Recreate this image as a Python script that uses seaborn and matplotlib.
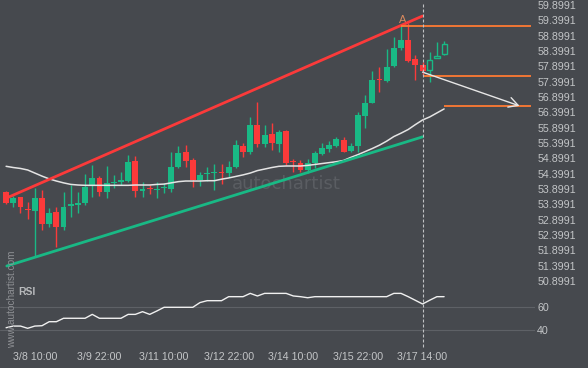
import numpy as np
import pandas as pd
import seaborn as sns
import matplotlib.pyplot as plt
from matplotlib.lines import Line2D
from matplotlib.transforms import blended_transform_factory

# 4h candles, index 0..61
opens = [53.81, 53.44, 53.63, 53.25, 53.18, 53.61, 52.76, 53.15, 52.66, 53.36,
         53.38, 53.44, 54.00, 54.26, 53.80, 54.09, 54.14, 54.16, 54.81, 53.85,
         53.91, 53.88, 53.93, 53.90, 54.62, 55.11, 54.85, 54.19, 54.39, 54.42,
         54.45, 54.41, 54.62, 55.30, 55.12, 55.99, 55.37, 55.69, 55.37, 55.79,
         54.80, 54.75, 54.52, 54.74, 55.04, 55.20, 55.31, 55.50, 55.14, 55.30,
         56.28, 56.71, 57.47, 57.43, 57.91, 58.51, 58.76, 58.13, 57.94, 57.78,
         58.16, 58.29]
highs = [53.84, 53.66, 53.65, 53.49, 53.93, 53.87, 53.28, 53.31, 53.80, 54.03,
         53.80, 54.39, 54.68, 54.32, 54.65, 54.36, 54.45, 55.01, 54.98, 54.13,
         54.03, 54.13, 54.10, 55.11, 55.30, 55.33, 54.91, 54.45, 54.62, 54.72,
         54.72, 54.81, 55.50, 55.41, 56.26, 56.75, 55.99, 56.06, 55.82, 55.82,
         54.88, 54.85, 54.88, 55.15, 55.40, 55.46, 55.60, 55.60, 55.40, 56.42,
         56.96, 57.76, 57.88, 58.45, 58.85, 59.25, 59.30, 58.27, 58.05, 58.38,
         58.70, 58.73]
lows = [53.42, 53.31, 53.12, 52.92, 51.68, 52.56, 52.66, 52.01, 52.56, 52.99,
        53.12, 53.38, 53.64, 53.67, 53.61, 53.93, 54.03, 54.13, 53.64, 53.64,
        53.74, 53.61, 53.77, 53.80, 54.58, 54.62, 53.96, 54.00, 54.16, 53.87,
        54.06, 54.29, 54.58, 54.94, 55.04, 55.27, 55.27, 55.17, 55.11, 54.68,
        54.45, 54.45, 54.42, 54.58, 55.01, 55.11, 55.27, 55.11, 55.11, 55.12,
        55.89, 56.70, 57.06, 57.40, 57.88, 58.43, 58.05, 57.45, 57.62, 57.40,
        58.16, 58.27]
closes = [53.44, 53.61, 53.30, 53.22, 53.61, 52.76, 53.12, 52.66, 53.31, 53.39,
          53.43, 53.96, 54.26, 53.80, 54.10, 54.10, 54.18, 54.78, 53.83, 53.88,
          53.89, 53.91, 53.95, 54.62, 55.07, 54.81, 54.19, 54.36, 54.42, 54.45,
          54.42, 54.62, 55.33, 55.11, 55.99, 55.37, 55.66, 55.41, 55.76, 54.75,
          54.77, 54.52, 54.74, 55.08, 55.24, 55.33, 55.52, 55.12, 55.30, 56.31,
          56.69, 57.45, 57.44, 57.87, 58.49, 58.76, 58.08, 57.94, 57.75, 58.11,
          58.25, 58.62]
ma_values = [54.64, 54.60, 54.57, 54.52, 54.42, 54.32, 54.23, 54.16, 54.10, 54.05,
             54.03, 54.02, 54.02, 54.02, 54.02, 54.02, 54.02, 54.02, 54.03, 54.03,
             54.03, 54.05, 54.06, 54.10, 54.14, 54.16, 54.16, 54.16, 54.17, 54.17,
             54.22, 54.26, 54.31, 54.36, 54.42, 54.50, 54.55, 54.60, 54.64, 54.65,
             54.65, 54.65, 54.67, 54.70, 54.73, 54.76, 54.79, 54.83, 54.93, 55.02,
             55.12, 55.22, 55.33, 55.46, 55.61, 55.72, 55.84, 56.00, 56.15, 56.25,
             56.38, 56.51]
rsi_values = [42.2, 43.6, 43.6, 41.7, 43.6, 43.9, 47.3, 47.3, 50.2, 50.2,
              50.2, 50.2, 53.5, 50.2, 50.2, 50.2, 50.2, 53.5, 53.5, 55.8,
              53.5, 56.4, 59.5, 59.5, 59.5, 59.5, 59.5, 63.5, 65.1, 65.1,
              65.1, 68.5, 68.5, 68.5, 71.3, 69.1, 71.3, 71.3, 71.3, 71.3,
              69.1, 68.5, 67.6, 68.5, 68.5, 68.5, 68.5, 68.5, 68.5, 68.5,
              68.5, 68.5, 68.5, 68.5, 71.3, 71.3, 68.5, 65.4, 62.3, 65.5,
              68.5, 68.5]

tick_idx = [4, 13, 22, 31, 40, 49, 58]
tick_labels = ['3/8 10:00', '3/9 22:00', '3/11 10:00', '3/12 22:00',
               '3/14 10:00', '3/15 22:00', '3/17 14:00']
price_ticks = [50.8991 + 0.5 * k for k in range(19)]
rsi_ticks = [40, 60]

upper_line_x = [0.1, 58.0]
upper_line_y = [53.61, 59.54]
lower_line_x = [0.1, 58.0]
lower_line_y = [51.39, 55.60]
level_prices = [59.21, 57.58, 56.61]
level_starts = [55.0, 58.0, 61.0]
level_end = 73.1
arrow_from = (58.0, 57.71)
arrow_to = (71.5, 56.61)
signal_idx = 58
hollow_from = 59

bg = '#46494e'
green = '#19b985'
red = '#fb3a3a'
orange = '#ff7a33'
txt = '#c3c5c7'

sns.set_theme(style='dark', rc={'figure.facecolor': bg, 'axes.facecolor': bg})
plt.rcParams['font.family'] = ['Liberation Sans', 'DejaVu Sans']

df = pd.DataFrame({'idx': np.arange(len(opens)), 'open': opens, 'high': highs,
                   'low': lows, 'close': closes, 'ma': ma_values, 'rsi': rsi_values})

W, H = 588, 368
fig = plt.figure(figsize=(W / 100, H / 100), dpi=100)
ax = fig.add_axes([0, 1 - 290 / H, 535 / W, 290 / H])
rsi_ax = fig.add_axes([0, (H - 342) / H, 535 / W, 54 / H])
rsi_ax.patch.set_alpha(0)

xlim = (-0.85, 73.66)

# candles
up = df['close'] >= df['open']
cols = np.where(up, green, red)
ax.vlines(df['idx'], df['low'], df['high'], colors=cols, lw=1, zorder=2)
bottoms = np.minimum(df['open'], df['close'])
heights = np.maximum((df['close'] - df['open']).abs(), 0.035)
solid = df['idx'] < hollow_from
ax.bar(df['idx'][solid], heights[solid], bottom=bottoms[solid], width=0.82,
       color=cols[solid], linewidth=0, zorder=3)
ax.bar(df['idx'][~solid], heights[~solid], bottom=bottoms[~solid], width=0.72,
       color=bg, edgecolor=green, linewidth=1, zorder=3)

# moving average
sns.lineplot(data=df, x='idx', y='ma', ax=ax, color='#e4e4e4', lw=1.1, zorder=4)

# channel
ax.plot(upper_line_x, upper_line_y, color=red, lw=2, zorder=5)
ax.plot(lower_line_x, lower_line_y, color=green, lw=2, zorder=5)

# levels + forecast arrow
for p, s in zip(level_prices, level_starts):
    ax.hlines(p, s, level_end, color=orange, lw=1.3, zorder=5)
ax.annotate('', xy=arrow_to, xytext=arrow_from,
            arrowprops=dict(arrowstyle='->,head_length=0.55,head_width=0.3',
                            color='#e6e6e6', lw=1, shrinkA=0, shrinkB=0), zorder=6)
ax.text(55.3, 59.41, 'A', color='#d98a5e', fontsize=8, ha='center', va='center')

# watermark
ax.text(39.0, 54.06, 'autochartist', color='#5a5d62', fontsize=13,
        family='DejaVu Sans', ha='center', va='center', zorder=1)

ax.set_xlim(xlim)
ax.set_ylim(50.607, 60.062)
ax.set_xticks([])
ax.yaxis.tick_right()
ax.set_yticks(price_ticks)
ax.set_yticklabels([f'{t:.4f}' for t in price_ticks])
ax.tick_params(axis='y', length=0, pad=1.5, labelsize=7.7, labelcolor=txt)
ax.set_xlabel('')
ax.set_ylabel('')

# RSI panel
sns.lineplot(data=df, x='idx', y='rsi', ax=rsi_ax, color='#f0f0f0', lw=1)
rsi_ax.set_xlim(xlim)
rsi_ax.set_ylim(30.1, 75.85)
rsi_ax.yaxis.tick_right()
rsi_ax.set_yticks(rsi_ticks)
rsi_ax.grid(axis='y', color='#5e6166', lw=0.8)
rsi_ax.grid(axis='x', visible=False)
rsi_ax.set_xticks(tick_idx)
rsi_ax.set_xticklabels(tick_labels)
rsi_ax.tick_params(axis='y', length=0, pad=1.5, labelsize=7.7, labelcolor=txt)
rsi_ax.tick_params(axis='x', length=0, pad=7, labelsize=7.7, labelcolor=txt)
rsi_ax.set_xlabel('')
rsi_ax.set_ylabel('')
rsi_ax.text(18 / 535, 0.92, 'RSI', transform=rsi_ax.transAxes, color='#b8babc',
            fontsize=7.5, fontweight='bold', ha='left', va='center')

for a in (ax, rsi_ax):
    for sp in a.spines.values():
        sp.set_visible(False)

# signal time marker across both panels
tr = blended_transform_factory(ax.transData, fig.transFigure)
fig.add_artist(Line2D([signal_idx, signal_idx], [(H - 4) / H, (H - 349) / H],
                      transform=tr, color='#c0c2c4', lw=0.8,
                      linestyle=(0, (2.7, 1.8))))

fig.text(12.5 / W, 1 - 299 / H, 'www.autochartist.com', rotation=90,
         color='#8e9094', fontsize=7.2, ha='center', va='center')

fig.savefig('out.png', dpi=100, facecolor=bg)
